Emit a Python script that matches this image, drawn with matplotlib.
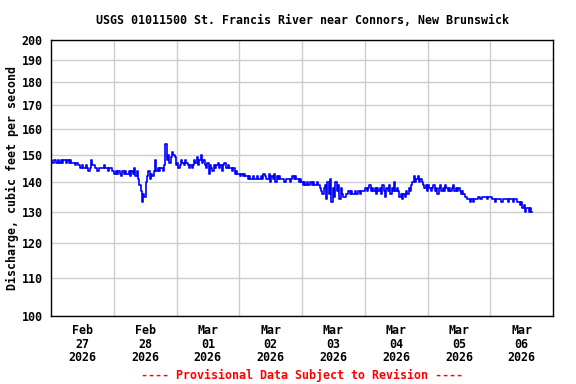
import numpy as np
import pandas as pd
import matplotlib
matplotlib.use('Agg')
import matplotlib.pyplot as plt
from matplotlib.ticker import FixedLocator, NullFormatter

# half-hourly discharge readings, cfs, starting 2026-02-27 00:00
feb27 = [148, 147, 147, 148, 147, 147, 148, 147,
         148, 147, 148, 148, 147, 148, 147, 148,
         147, 147, 147, 146, 147, 146, 146,
         145, 146, 145, 145, 146, 145, 144, 145, 148, 146, 146,
         145, 145, 144, 145, 145, 145, 145, 146, 145, 145, 144, 145, 145, 144]
feb28 = [144, 143, 144, 143, 144, 143, 142, 144, 143, 144, 143, 143, 144,
         142, 144, 143, 145, 142, 144, 141,
         139, 137, 133, 136, 135, 140,
         142, 144, 141, 143, 142, 144, 148,
         144, 145, 144, 145, 145, 144, 146, 154,
         148, 150, 147, 149, 151, 150, 149]
mar01 = [146, 147, 145, 146, 148, 147, 146, 148, 147,
         146, 145, 146, 145, 146,
         148, 147, 149, 146, 148, 150, 147, 148,
         146, 145, 147, 143, 146, 145, 144, 146, 145, 146,
         147, 145, 146, 144, 146, 147, 145, 145,
         146, 145, 145, 144, 145, 143, 144, 143]
mar02 = [143, 142, 143, 142, 143, 142, 142,
         141, 142, 141, 141, 142, 141, 141, 142, 141, 141, 142, 141, 143,
         142, 141, 141,
         143, 140, 142, 141, 143, 140, 142, 141, 142,
         141, 141, 141, 140, 141, 141, 141, 140, 141,
         142, 141, 142, 141, 141, 140, 141]
mar03 = [140, 139, 140, 139, 140, 139, 139, 140, 139, 140, 139, 139, 140, 139,
         138, 137, 136, 138,
         139, 134, 140, 136, 141, 133, 138, 135, 140, 137, 139, 134, 138,
         136, 135, 135, 136,
         136, 137, 136, 137, 136, 136, 137, 136, 137, 137, 136, 137, 137]
mar04 = [137, 138, 137, 138, 139, 137, 138, 137, 138, 136, 138, 137,
         138, 136, 139, 137, 135, 138, 137, 139, 136, 138, 137, 140, 137, 138, 137,
         135, 136, 134, 136, 135, 137, 136, 138, 137,
         139, 140, 142, 140, 141, 142, 140, 141, 140,
         139, 138, 139]
mar05 = [137, 139, 138, 137, 138, 139, 137, 138, 136, 138, 139, 137, 138,
         137, 139, 138, 137, 138, 137, 138, 139, 137, 138, 137, 138,
         137, 136, 137, 136, 135, 135, 134,
         134, 133, 134, 133, 134, 134, 134,
         135, 135, 134, 135, 135, 135, 135, 134, 135]
mar06 = [135, 135, 134, 134, 133, 134, 134,
         134, 134, 133, 134, 134, 134, 134, 133, 134, 134, 134, 133, 134, 134,
         133, 133, 132, 133, 131, 132, 130, 131, 131, 130, 131, 130]

flow = feb27 + feb28 + mar01 + mar02 + mar03 + mar04 + mar05 + mar06
times = pd.date_range('2026-02-27 00:00', periods=len(flow), freq='30min')

day_labels = ['Feb\n27\n2026', 'Feb\n28\n2026', 'Mar\n01\n2026', 'Mar\n02\n2026',
              'Mar\n03\n2026', 'Mar\n04\n2026', 'Mar\n05\n2026', 'Mar\n06\n2026']
yticks = [100, 110, 120, 130, 140, 150, 160, 170, 180, 190, 200]

plt.rcParams['font.family'] = 'DejaVu Sans Mono'
plt.rcParams['font.weight'] = 'bold'
fs = 8.4

fig = plt.figure(figsize=(5.76, 3.84), dpi=100)
ax = fig.add_axes([51/576, 68/384, 502/576, 276/384])

ax.plot(times, flow, color='#0000ff', lw=1.2, drawstyle='steps-mid')

ax.set_yscale('log')
ax.set_ylim(100, 200)
ax.yaxis.set_major_locator(FixedLocator(yticks))
ax.set_yticklabels([str(t) for t in yticks], fontsize=fs, fontweight='bold')
ax.yaxis.set_minor_formatter(NullFormatter())
ax.yaxis.set_minor_locator(FixedLocator([]))

start = pd.Timestamp('2026-02-27')
ax.set_xlim(start, start + pd.Timedelta(days=8))
noons = [start + pd.Timedelta(hours=12 + 24*k) for k in range(8)]
mids = [start + pd.Timedelta(days=k) for k in range(1, 8)]
ax.set_xticks(noons)
ax.set_xticklabels(day_labels, fontsize=fs, fontweight='bold', linespacing=1.02)
ax.set_xticks(mids, minor=True)

ax.tick_params(axis='both', which='both', length=0)
ax.tick_params(axis='y', pad=6)
ax.tick_params(axis='x', pad=6)
ax.grid(True, axis='y', which='major', color='#cccccc', lw=1)
ax.grid(True, axis='x', which='minor', color='#cccccc', lw=1)
ax.set_axisbelow(True)
for s in ax.spines.values():
    s.set_color('black')
    s.set_linewidth(1)

ax.set_ylabel('Discharge, cubic feet per second', fontsize=fs, fontweight='bold', labelpad=2)
xc = 302 / 576
fig.text(xc, 1 - 20/384, 'USGS 01011500 St. Francis River near Connors, New Brunswick',
         ha='center', va='center', fontsize=fs, fontweight='bold')
fig.text(xc, 1 - 375/384, '---- Provisional Data Subject to Revision ----',
         ha='center', va='center', fontsize=fs, fontweight='bold', color='red')

fig.savefig('out.png', dpi=100)
